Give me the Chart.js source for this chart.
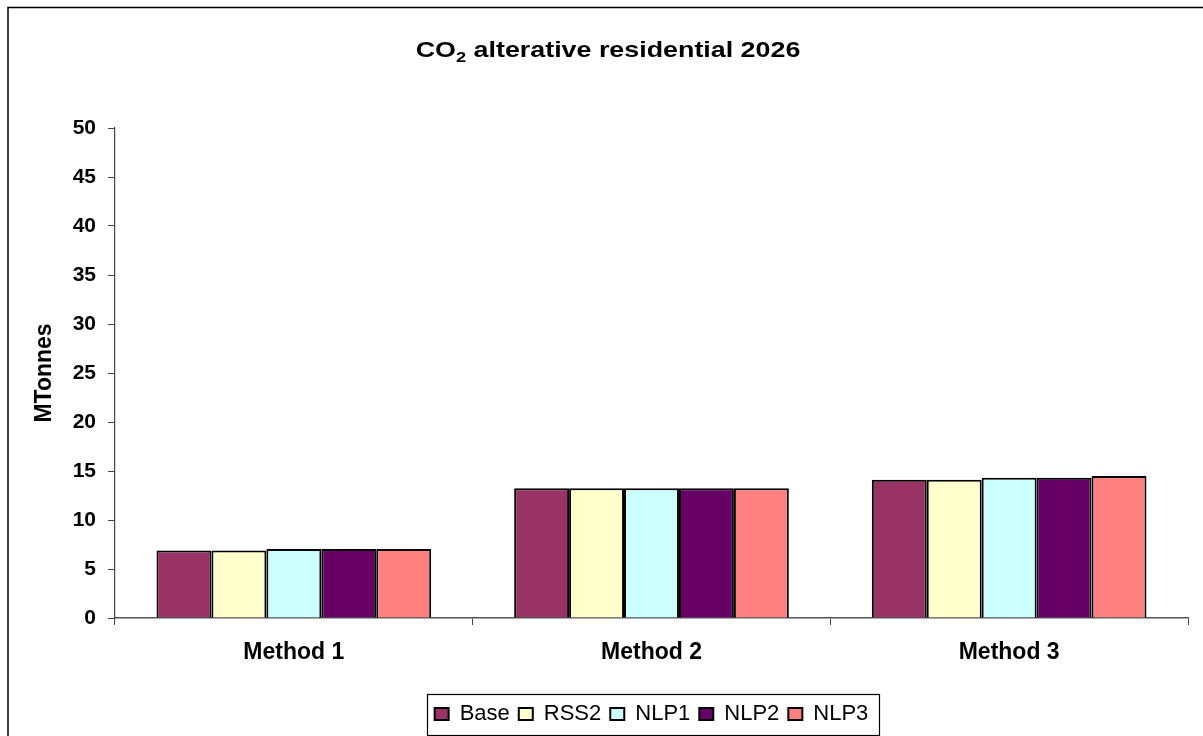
<!DOCTYPE html>
<html>
<head>
<meta charset="utf-8">
<script src="https://cdn.jsdelivr.net/npm/chart.js@4.4.0/dist/chart.umd.min.js"></script>
<style>
  html, body { margin: 0; padding: 0; background: #ffffff; }
  #wrap { width: 1203px; height: 736px; position: relative; }
</style>
</head>
<body>
<div id="wrap"><canvas id="chart" width="1203" height="736"></canvas></div>
<script>
// Emissions by estimation method (MTonnes CO2), one series per scenario
const categories = ['Method 1', 'Method 2', 'Method 3'];
const seriesNames = ['Base', 'RSS2', 'NLP1', 'NLP2', 'NLP3'];
const baseValues = [6.9, 13.25, 14.1];
const rss2Values = [6.9, 13.25, 14.1];
const nlp1Values = [7.05, 13.25, 14.3];
const nlp2Values = [7.05, 13.25, 14.3];
const nlp3Values = [7.05, 13.25, 14.5];
const seriesColors = ['#993366', '#FFFFCC', '#CCFFFF', '#660066', '#FF8080'];
const yMin = 0;
const yMax = 50;
const yStep = 5;

const FONT = '"Liberation Sans", Arial, Helvetica, sans-serif';
const seriesValues = [baseValues, rss2Values, nlp1Values, nlp2Values, nlp3Values];

// Chart title with a subscripted "2" in CO2, plus the outer frame
const titleAndFrame = {
  id: 'titleAndFrame',
  afterDraw(chart) {
    const ctx = chart.ctx;
    ctx.save();
    // outer frame
    ctx.strokeStyle = '#000000';
    ctx.lineWidth = 1.5;
    ctx.strokeRect(8, 7.5, 1400, 900);

    // title
    const big = 'bold 22px ' + FONT;
    const small = 'bold 15px ' + FONT;
    const parts = [
      { text: 'CO', font: big, dy: 0 },
      { text: '2', font: small, dy: 5 },
      { text: ' alterative residential 2026', font: big, dy: 0 }
    ];
    const scaleX = 1.22;
    let total = 0;
    parts.forEach(p => { ctx.font = p.font; p.w = ctx.measureText(p.text).width; total += p.w; });
    const cx = 608, baseline = 57;
    ctx.translate(cx, baseline);
    ctx.scale(scaleX, 1);
    let x = -total / 2;
    ctx.fillStyle = '#000000';
    ctx.textBaseline = 'alphabetic';
    ctx.textAlign = 'left';
    parts.forEach(p => {
      ctx.font = p.font;
      ctx.fillText(p.text, x, p.dy);
      x += p.w;
    });
    ctx.restore();
  }
};

// Rectangle around the legend entries
const legendFrame = {
  id: 'legendFrame',
  afterDraw(chart) {
    const lg = chart.legend;
    if (!lg || !lg.legendHitBoxes || !lg.legendHitBoxes.length) return;
    const boxes = lg.legendHitBoxes;
    let left = Infinity, right = -Infinity;
    boxes.forEach(b => { left = Math.min(left, b.left); right = Math.max(right, b.left + b.width); });
    const ctx = chart.ctx;
    ctx.save();
    ctx.strokeStyle = '#000000';
    ctx.lineWidth = 1.2;
    ctx.strokeRect(Math.round(left - 8) + 0.5, Math.round(lg.top) + 0.5,
                   Math.round(right - left + 18), Math.round(lg.height));
    ctx.restore();
  }
};

const datasets = seriesNames.map((name, i) => ({
  label: name,
  data: seriesValues[i],
  backgroundColor: seriesColors[i],
  borderColor: '#000000',
  borderWidth: 2,
  categoryPercentage: 0.768,
  barPercentage: 1.0
}));

new Chart(document.getElementById('chart'), {
  type: 'bar',
  data: { labels: categories, datasets },
  options: {
    responsive: false,
    animation: false,
    devicePixelRatio: 1,
    layout: { padding: { left: 0, right: 15, top: 128, bottom: 1 } },
    plugins: {
      title: { display: false },
      tooltip: { enabled: false },
      legend: {
        position: 'bottom',
        fullSize: false,
        labels: {
          color: '#000000',
          boxWidth: 14,
          boxHeight: 12,
          padding: 9,
          font: { family: FONT, size: 22 }
        }
      }
    },
    scales: {
      x: {
        grid: { offset: true, drawOnChartArea: false, drawTicks: true, tickLength: 7, color: '#444444' },
        border: { color: '#555555', width: 1.5 },
        ticks: { color: '#000000', padding: 14, font: { family: FONT, size: 23, weight: 'bold' } },
        afterFit(scale) { scale.height = 76; }
      },
      y: {
        min: yMin,
        max: yMax,
        grid: { drawOnChartArea: false, drawTicks: true, tickLength: 7, color: '#444444' },
        border: { color: '#444444', width: 1.2 },
        ticks: { stepSize: yStep, color: '#000000', padding: 12, font: { family: FONT, size: 21, weight: 'bold' } },
        title: {
          display: true,
          text: 'MTonnes',
          color: '#000000',
          font: { family: FONT, size: 23, weight: 'bold' },
          padding: { top: 31, bottom: 0 }
        },
        afterFit(scale) { scale.width = 115; }
      }
    }
  },
  plugins: [titleAndFrame, legendFrame]
});
</script>
</body>
</html>
